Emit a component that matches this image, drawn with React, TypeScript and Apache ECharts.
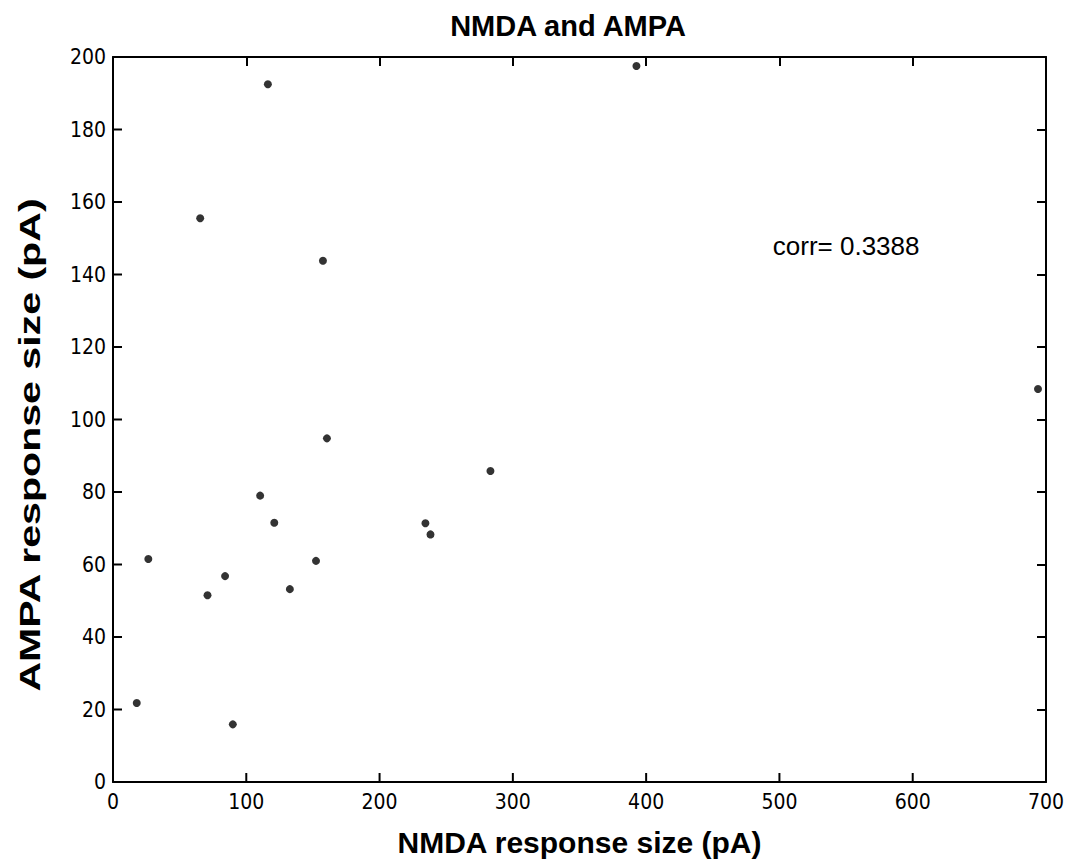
import React, { useEffect, useRef } from "react";
import * as echarts from "echarts";

const nmda: number[] = [17.8, 26.5, 65.4, 70.9, 84.1, 89.9, 110.4, 116.2, 121, 132.7, 152.3, 157.5, 160.5, 234.4, 238.2, 283.2, 392.7, 694];
const ampa: number[] = [21.8, 61.5, 155.5, 51.5, 56.8, 15.9, 79.0, 192.5, 71.5, 53.2, 61.0, 143.8, 94.8, 71.4, 68.3, 85.8, 197.5, 108.4];
const xTicks: number[] = [0, 100, 200, 300, 400, 500, 600, 700];
const yTicks: number[] = [0, 20, 40, 60, 80, 100, 120, 140, 160, 180, 200];
const corrText = "corr= 0.3388";
const corrPos: [number, number] = [495, 148];
const titleText = "NMDA and AMPA";
const xName = "NMDA response size (pA)";
const yName = "AMPA response size (pA)";

export default function App() {
  const ref = useRef<HTMLDivElement>(null);
  useEffect(() => {
    if (!ref.current) return;
    const chart = echarts.init(ref.current, null, { renderer: "svg" });
    const font = "'Liberation Sans', Arial, Helvetica, sans-serif";
    const narrow = "'Liberation Sans Narrow', 'DejaVu Sans Condensed', 'Liberation Sans', Arial, sans-serif";
    const axisLine = () => ({ show: true, onZero: false, lineStyle: { color: "#000", width: 2 } });
    const tick = () => ({ show: true, inside: true, length: 9, lineStyle: { color: "#000", width: 2 } });
    const data = nmda.map((x, i) => [x, ampa[i]]);
    chart.setOption({
      animation: false,
      backgroundColor: "#fff",
      title: {
        text: titleText,
        left: 563,
        textAlign: "center",
        top: 6,
        textStyle: { fontFamily: font, fontSize: 29, fontWeight: "bold", color: "#000" },
      },
      grid: { left: 113, right: 28, top: 57, bottom: 83, containLabel: false },
      xAxis: [
        {
          type: "value", min: 0, max: 700, interval: 100, position: "bottom",
          axisLine: axisLine(), axisTick: { show: false }, splitLine: { show: false },
          axisLabel: { color: "#000", fontFamily: narrow, fontSize: 21, margin: 9 },
          name: xName, nameLocation: "middle", nameGap: 45,
          nameTextStyle: { color: "#000", fontFamily: font, fontSize: 30, fontWeight: "bold" },
        },
        {
          type: "value", min: 0, max: 700, interval: 100, position: "top",
          axisLine: axisLine(), axisTick: tick(), splitLine: { show: false }, axisLabel: { show: false },
        },
      ],
      yAxis: [
        {
          type: "value", min: 0, max: 200, interval: 20, position: "left",
          axisLine: axisLine(), axisTick: { show: false }, splitLine: { show: false },
          axisLabel: { color: "#000", fontFamily: narrow, fontSize: 21, margin: 7 },
        },
        {
          type: "value", min: 0, max: 200, interval: 20, position: "right",
          axisLine: axisLine(), axisTick: tick(), splitLine: { show: false }, axisLabel: { show: false },
        },
      ],
      series: [
        {
          type: "scatter",
          xAxisIndex: 0,
          yAxisIndex: 0,
          data,
          symbol: "circle",
          symbolSize: 8,
          itemStyle: { color: "#000" },
        },
      ],
    });
    const toPx = (v: [number, number]) =>
      chart.convertToPixel({ xAxisIndex: 0, yAxisIndex: 0 }, v) as number[];
    const tickLen = 9;
    const tickStyle = { stroke: "#000", lineWidth: 2 };
    const bottomTicks = xTicks.map((v) => {
      const q = toPx([v, 0]);
      return { type: "line", shape: { x1: q[0], y1: q[1], x2: q[0], y2: q[1] - tickLen }, style: tickStyle, z: 10 };
    });
    const leftTicks = yTicks.map((v) => {
      const q = toPx([0, v]);
      return { type: "line", shape: { x1: q[0], y1: q[1], x2: q[0] + tickLen, y2: q[1] }, style: tickStyle, z: 10 };
    });
    const p = toPx(corrPos);
    chart.setOption({
      graphic: [
        ...bottomTicks,
        ...leftTicks,
        {
          type: "text",
          x: p[0],
          y: p[1],
          style: {
            text: corrText,
            font: `26px ${font}`,
            fill: "#000",
            textAlign: "left",
            textVerticalAlign: "middle",
          },
        },
        {
          type: "text",
          x: 30,
          y: 445,
          rotation: Math.PI / 2,
          scaleX: 1.37,
          style: {
            text: yName,
            font: `bold 30px ${font}`,
            fill: "#000",
            textAlign: "center",
            textVerticalAlign: "middle",
          },
        },
      ],
    });
    return () => chart.dispose();
  }, []);
  return (
    <div
      ref={ref}
      style={{ position: "fixed", left: 0, top: 0, width: 1074, height: 865 }}
    />
  );
}
